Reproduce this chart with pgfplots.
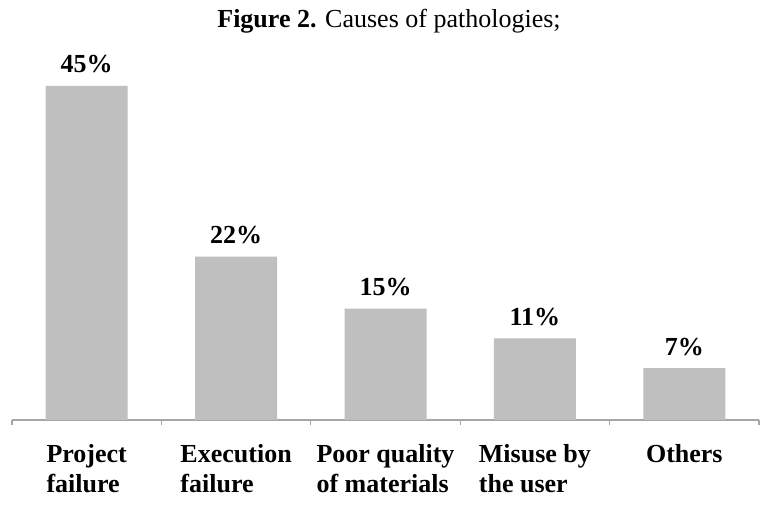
\documentclass[border=0pt]{standalone}
\usepackage{pgfplots}
\pgfplotsset{compat=1.18}
\usepackage{fontspec}
\setmainfont{Liberation Serif}

\definecolor{barfill}{HTML}{BFBFBF}
\definecolor{axisgray}{HTML}{A6A6A6}

% 1 px of the reference = 0.75pt
\newcommand{\labelfont}{\fontsize{19.5}{22.5}\selectfont\bfseries}

\begin{document}
\begin{tikzpicture}
\begin{axis}[
    scale only axis,
    width=560.25pt, height=250.5pt,
    xmin=-0.5, xmax=4.5,
    ymin=0, ymax=45,
    clip=false,
    hide y axis,
    axis x line=bottom,
    x axis line style={-, draw=axisgray, line width=1.2pt},
    xtick={0,1,2,3,4},
    xticklabels={Project\\failure, Execution\\failure, Poor quality\\of materials, Misuse by\\the user, Others},
    major x tick style={draw=none},
    minor xtick={-0.5,0.5,1.5,2.5,3.5,4.5},
    minor x tick style={draw=axisgray, line width=0.8pt},
    minor tick length=4pt,
    tick align=outside,
    xticklabel style={anchor=north, inner sep=0pt, yshift=-14pt, align=left, font=\labelfont},
    /pgf/number format/assume math mode=true,
    ybar, bar width=61.5pt, bar shift=0pt,
    nodes near coords={\pgfmathprintnumber{\pgfplotspointmeta}\%},
    every node near coord/.append style={font=\labelfont, anchor=base, inner sep=0pt, yshift=9.75pt},
]
\addplot[fill=barfill, draw=none] coordinates {
    (0,45) (1,22) (2,15) (3,11) (4,7)
};
\coordinate (o) at (-0.5,0);
\end{axis}
\node[anchor=base, font=\fontsize{19.5}{22.5}\selectfont] at ([xshift=282.75pt, yshift=294pt]o) {\textbf{Figure 2.} Causes of pathologies;};
\pgfresetboundingbox
\path ([xshift=-9pt, yshift=-63.75pt]o) rectangle ++(584.25pt, 378.75pt);
\end{tikzpicture}
\end{document}
